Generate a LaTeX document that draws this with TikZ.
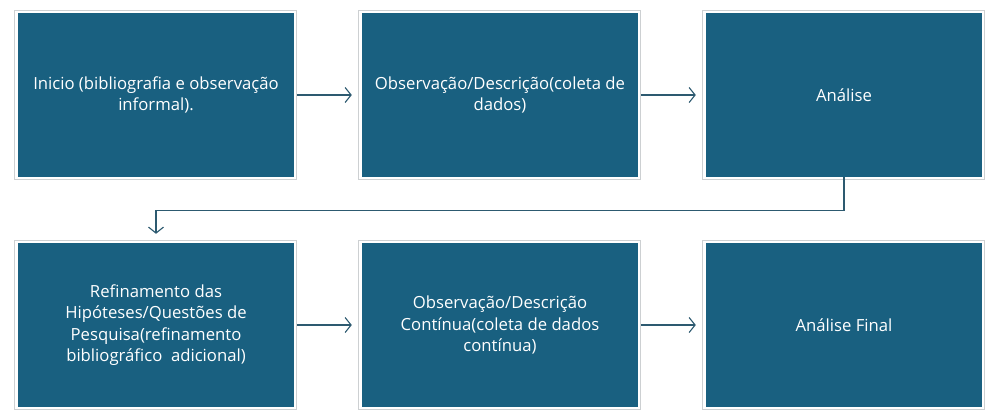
\documentclass[tikz,border=0pt]{standalone}
\usepackage{fontspec}
\setmainfont{Open Sans}
\usetikzlibrary{arrows.meta,calc}
\definecolor{boxblue}{RGB}{25,96,128}
\definecolor{conncol}{RGB}{45,90,112}
\definecolor{framegray}{RGB}{205,208,210}
\begin{document}
\begin{tikzpicture}[x=1pt,y=-1pt,
  stepbox/.style={fill=boxblue,draw=none,minimum width=276pt,minimum height=164pt,
    text=white,align=center,font=\fontsize{16.7}{21.5}\selectfont,inner sep=0pt},
  conn/.style={draw=conncol,line width=1.1pt,-{Straight Barb[length=6pt,width=15pt,line width=1.1pt]}}
]
\useasboundingbox (0,0) rectangle (996,418);
\node[stepbox] (b1) at (156,95) {Inicio (bibliografia e observação\\informal).};
\node[stepbox] (b2) at (500,95) {Observação/Descrição(coleta de\\dados)};
\node[stepbox] (b3) at (844,95) {Análise};
\node[stepbox] (b4) at (156,325) {Refinamento das\\Hipóteses/Questões de\\Pesquisa(refinamento\\bibliográfico\ \ adicional)};
\node[stepbox] (b5) at (500,325) {Observação/Descrição\\Contínua(coleta de dados\\contínua)};
\node[stepbox] (b6) at (844,325) {Análise Final};
\foreach \b in {b1,b2,b3,b4,b5,b6}{
  \draw[framegray,line width=0.8pt] ($(\b.south west)+(-3,2)$) rectangle ($(\b.north east)+(2,-2)$);
}
\draw[conn,shorten <=3pt,shorten >=10pt] (b1) -- (b2);
\draw[conn,shorten <=3pt,shorten >=10pt] (b2) -- (b3);
\draw[conn,shorten <=3pt,shorten >=10pt] (b4) -- (b5);
\draw[conn,shorten <=3pt,shorten >=10pt] (b5) -- (b6);
\draw[conn,shorten >=9pt] (b3.south) -- ++(0,33) -| (b4.north);
\end{tikzpicture}
\end{document}
